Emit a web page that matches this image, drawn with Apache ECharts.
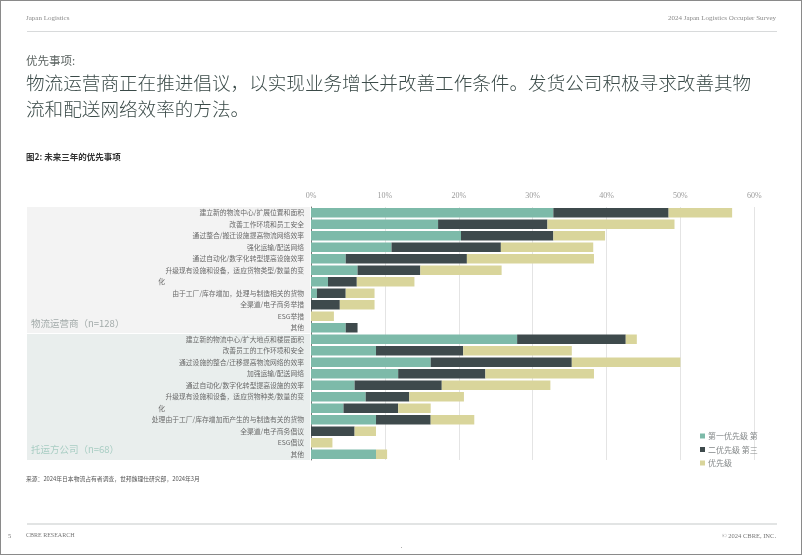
<!DOCTYPE html>
<html><head><meta charset="utf-8">
<script src="https://cdn.jsdelivr.net/npm/echarts@6/dist/echarts.min.js"></script>
<style>
html,body{margin:0;padding:0;background:#fff;}
#page{position:relative;width:802px;height:555px;box-sizing:border-box;border:1px solid #8a8a8a;overflow:hidden;font-family:"Noto Sans CJK SC","Noto Sans",sans-serif;}
.t{position:absolute;white-space:nowrap;}
.serif{font-family:"Liberation Serif","DejaVu Serif",serif;}
#chart{position:absolute;left:0;top:0;width:802px;height:555px;}
</style></head>
<body><div id="page">
<div id="chart"></div>
<div class="t serif" style="left:25px;top:13px;font-size:7px;color:#8a8a8a;">Japan Logistics</div>
<div class="t serif" style="right:25px;top:13px;font-size:7px;color:#8a8a8a;">2024 Japan Logistics Occupier Survey</div>
<div style="position:absolute;left:26px;top:30px;width:750px;height:1px;background:#d8dadb;"></div>
<div class="t" style="left:25px;top:51px;font-size:11.5px;color:#5a6260;">优先事项:</div>
<div class="t" style="left:25px;top:68px;font-size:18.6px;line-height:26px;color:#3a4a48;font-weight:300;">物流运营商正在推进倡议，以实现业务增长并改善工作条件。发货公司积极寻求改善其物<br>流和配送网络效率的方法。</div>
<div class="t" style="left:25px;top:149px;font-size:8.5px;font-weight:bold;color:#333;">图2: 未来三年的优先事项</div>
<div class="t" style="left:25px;top:473px;font-size:5.8px;color:#555;">来源：2024年日本物流占有者调查，世邦魏理仕研究部，2024年3月</div>
<div style="position:absolute;left:26px;top:522px;width:750px;height:2px;background:#e2e4e4;"></div>
<div class="t serif" style="left:7px;top:531px;font-size:6.5px;color:#777;">5</div>
<div class="t serif" style="left:25px;top:531px;font-size:6px;color:#777;">CBRE RESEARCH</div>
<div class="t serif" style="right:25px;top:531px;font-size:6.5px;color:#777;">© 2024 CBRE, INC.</div>
<div class="t" style="left:398px;top:542px;font-size:5px;color:#999;">•</div>
</div>
<script>
// ---- data (percent) ----
var categoriesLogistics = ['建立新的物流中心/扩展位置和面积','改善工作环境和员工安全','通过整合/搬迁设施提高物流网络效率','强化运输/配送网络','通过自动化/数字化转型提高设施效率','升级现有设施和设备，适应货物类型/数量的变','化','由于工厂/库存增加，处理与制造相关的货物','全渠道/电子商务举措','ESG举措','其他'];
var categoriesShippers = ['建立新的物流中心/扩大地点和楼层面积','改善员工的工作环境和安全','通过设施的整合/迁移提高物流网络的效率','加强运输/配送网络','通过自动化/数字化转型提高设施的效率','升级现有设施和设备，适应货物种类/数量的变','化','处理由于工厂/库存增加而产生的与制造有关的货物','全渠道/电子商务倡议','ESG倡议','其他'];
var firstLogistics  = [32.8,17.2,20.3,10.9,4.7,6.3,2.3,0.8,0,0,4.7];
var secondLogistics = [15.6,14.8,12.5,14.8,16.4,8.5,3.9,3.9,3.9,0,1.6];
var thirdLogistics  = [8.6,17.2,7.0,12.5,17.2,11.0,7.8,3.9,4.7,3.1,0];
var firstShippers   = [27.9,8.8,16.2,11.8,5.9,7.4,4.4,8.8,0,0,8.8];
var secondShippers  = [14.7,11.8,19.1,11.8,11.8,5.9,7.4,7.4,5.9,0,0];
var thirdShippers   = [1.5,14.7,14.7,14.7,14.7,7.4,4.4,5.9,2.9,2.9,1.5];
var seriesNames = ['第一优先级 第','二优先级 第三','优先级'];
var groupLabels = ['物流运营商（n=128）','托运方公司（n=68）'];
var xTicks = [0,10,20,30,40,50,60];

var labels = categoriesLogistics.concat(categoriesShippers);
var keys = labels.map(function(_, i){ return 'c' + i; });
var colors = ['#7dbaa9','#3e4a4c','#d9d59b'];
var dataSets = [firstLogistics.concat(firstShippers), secondLogistics.concat(secondShippers), thirdLogistics.concat(thirdShippers)];

var chart = echarts.init(document.getElementById('chart'), null, {renderer:'canvas'});
var gridTop = 206, gridH = 253, rowH = gridH / labels.length;
var option = {
  animation:false,
  grid:{left:310, top:gridTop, width:443.3, height:gridH, containLabel:false},
  legend:{
    orient:'vertical', left:694, top:426, itemWidth:5, itemHeight:5, itemGap:5.5,
    icon:'rect', data:seriesNames,
    textStyle:{fontSize:8, color:'#85898a', fontFamily:'Noto Sans CJK SC', padding:[0,0,0,-2]}
  },
  graphic:[
    {type:'rect', z:-10, shape:{x:26, y:gridTop, width:283, height:rowH*11-0.5}, style:{fill:'#f3f3f3'}},
    {type:'rect', z:-10, shape:{x:26, y:gridTop+rowH*11+0.5, width:283, height:rowH*11-0.5}, style:{fill:'#e9eeed'}},
    {type:'text', left:30, top:gridTop+rowH*11-15, style:{text:groupLabels[0], fontSize:9.5, fill:'#a3abaa', fontFamily:'Noto Sans CJK SC'}},
    {type:'text', left:30, top:gridTop+rowH*22-15, style:{text:groupLabels[1], fontSize:9.5, fill:'#a8cdc3', fontFamily:'Noto Sans CJK SC'}}
  ],
  xAxis:{
    type:'value', position:'top', min:xTicks[0], max:xTicks[xTicks.length-1], interval:10,
    axisLine:{show:false}, axisTick:{show:false},
    splitLine:{show:true, lineStyle:{color:'#e4e4e4', width:1}},
    axisLabel:{formatter:'{value}%', color:'#9a9a9a', fontSize:8, fontFamily:'Liberation Serif', margin:7}
  },
  yAxis:{
    type:'category', inverse:true, data:keys,
    axisLine:{show:true, lineStyle:{color:'#7a7a7a', width:1}}, axisTick:{show:false},
    axisLabel:{
      interval:0, margin:7, fontSize:6.8, color:'#6a6a6a', fontFamily:'Noto Sans CJK SC',
      formatter:function(v){ var t = labels[+v.slice(1)]; return t === '化' ? '{l|' + t + '}' : t; },
      rich:{l:{fontSize:6.8, color:'#6a6a6a', padding:[0,139,0,0]}}
    }
  },
  series: seriesNames.map(function(n, k){
    return {name:n, type:'bar', stack:'s', barWidth:9.5, itemStyle:{color:colors[k]},
      data: dataSets[k].map(function(v){ return v === 0 ? null : v; })};
  })
};
chart.setOption(option);
</script>
</body></html>
